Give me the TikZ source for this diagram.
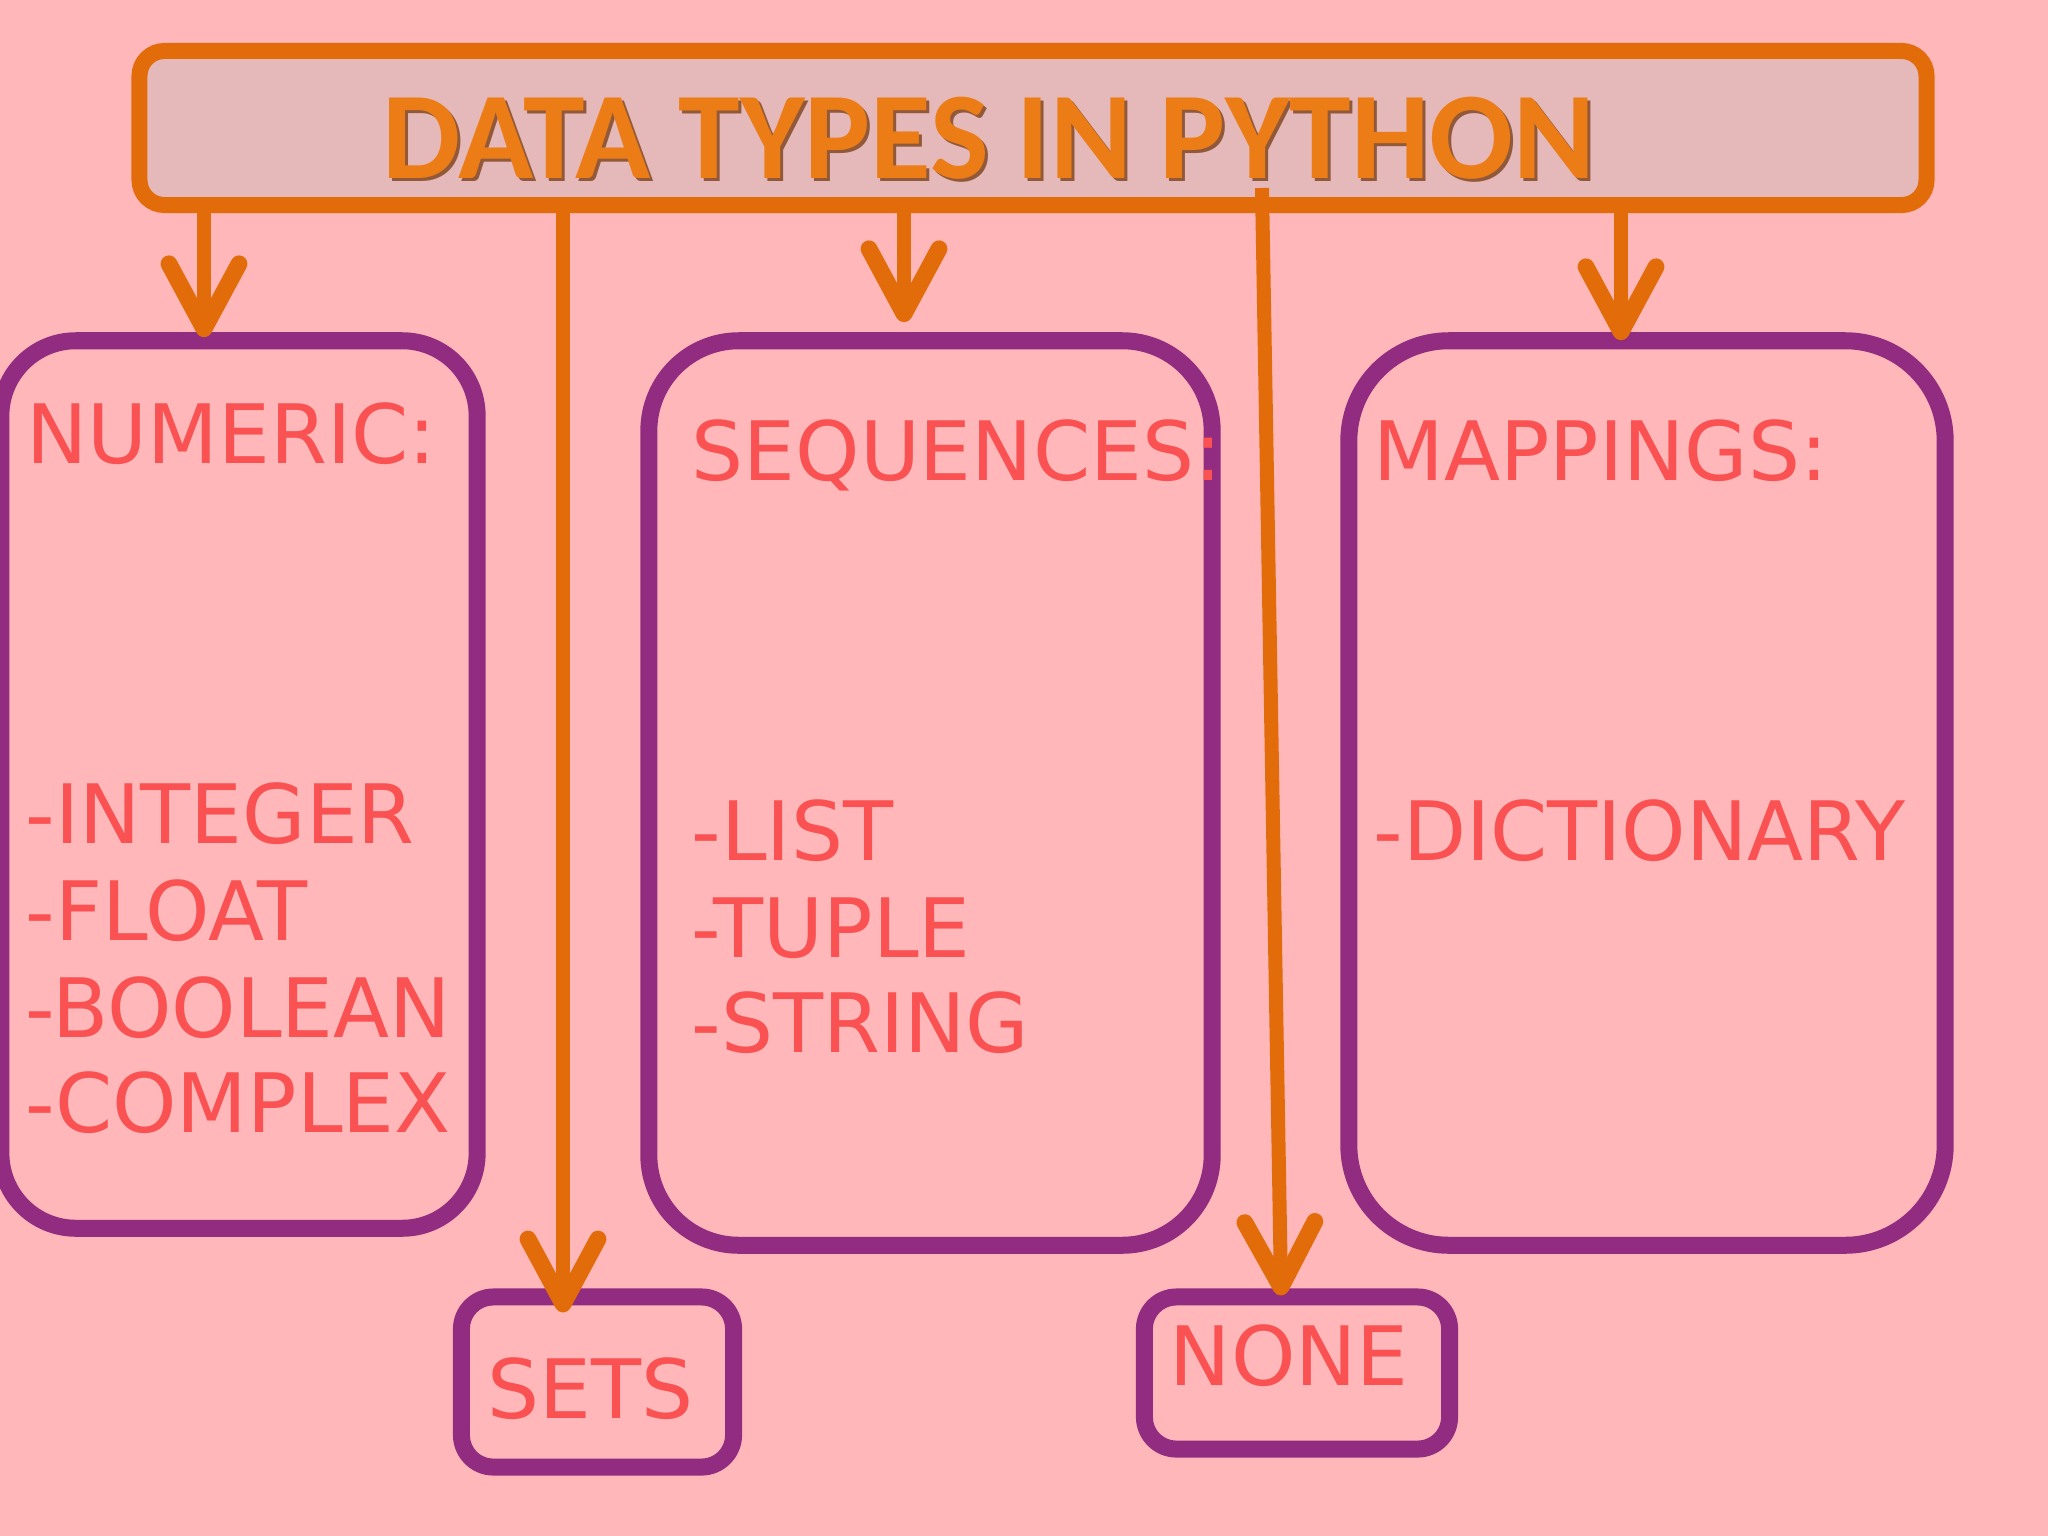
\documentclass[tikz,border=0pt]{standalone}
\usepackage{fontspec}
\usetikzlibrary{arrows.meta}
\newfontfamily\headfont{Carlito}
\newfontfamily\handfont{DejaVu Sans}
\definecolor{pagepink}{RGB}{255,183,185}
\definecolor{titlefill}{RGB}{229,184,185}
\definecolor{feedorange}{RGB}{227,108,10}
\definecolor{boxpurple}{RGB}{146,44,128}
\definecolor{itemred}{RGB}{250,82,82}
\definecolor{titleorange}{RGB}{236,125,22}
\definecolor{titleshade}{RGB}{110,50,5}
\tikzset{
  catbox/.style={draw=boxpurple,line width=1.7mm,inner sep=0pt},
  itemtext/.style={text=itemred,anchor=base west,inner sep=0pt,font=\handfont\fontsize{23.3pt}{28pt}\selectfont},
  titletext/.style={text=titleorange,anchor=base,inner sep=0pt,font=\headfont\bfseries\fontsize{35.3pt}{40pt}\selectfont},
  feed/.style={draw=feedorange,line width=1.4mm,->}
}

\begin{document}
\begin{tikzpicture}[x=.01cm,y=-.01cm,>={Straight Barb[length=6.5mm,width=7mm,round,line width=0pt 1.2]}]
\useasboundingbox (0,0) rectangle (2048,1536);
\fill[pagepink] (0,0) rectangle (2048,1536);
% heading
\node[draw=feedorange,fill=titlefill,line width=1.6mm,rounded corners=2.5mm,minimum width=17.86cm,minimum height=1.54cm] (title) at (1033,128) {};
\node[titletext,text=titleshade,opacity=.7] at (992,181) {DATA TYPES IN PYTHON};
\node[titletext] (head) at (989,178) {DATA TYPES IN PYTHON};
% the five groups
\node[catbox,rounded corners=7.5mm,minimum width=4.76cm,minimum height=8.87cm] (numeric) at (239,784.5) {};
\node[catbox,rounded corners=9mm,minimum width=5.63cm,minimum height=9.04cm] (sequences) at (930.5,793) {};
\node[catbox,rounded corners=10mm,minimum width=5.96cm,minimum height=9.04cm] (mappings) at (1647,793) {};
\node[catbox,rounded corners=3.2mm,minimum width=2.72cm,minimum height=1.70cm] (sets) at (597.5,1382) {};
\node[catbox,rounded corners=3.2mm,minimum width=3.05cm,minimum height=1.52cm] (none) at (1297,1373) {};
% texts
\node[itemtext] (numlbl) at (26,463) {NUMERIC:};
\node[itemtext] (int) at (25,843) {-INTEGER};\node[itemtext] (flt) at (25,940) {-FLOAT};
\node[itemtext] (bool) at (25,1037) {-BOOLEAN};\node[itemtext] (cplx) at (25,1132) {-COMPLEX};
\node[itemtext] (seqlbl) at (691,480) {SEQUENCES:};
\node[itemtext] (lst) at (691,860) {-LIST};\node[itemtext] (tpl) at (691,957) {-TUPLE};
\node[itemtext] (str) at (691,1052) {-STRING};
\node[itemtext] (maplbl) at (1373,480) {MAPPINGS:};
\node[itemtext] (dict) at (1373,860) {-DICTIONARY};
\node[itemtext] (setlbl) at (487,1418) {SETS};
\node[itemtext] (nonelbl) at (1169,1385) {NONE};
% arrows
\coordinate (xnum) at (204,0);\coordinate (xset) at (563,0);\coordinate (xseq) at (904,0);
\coordinate (xnone) at (1281,0);\coordinate (xmap) at (1621,0);\coordinate (nonestart) at (1262,188);
\draw[feed,shorten >=-.5mm] (title.south -| xnum) -- (numeric.north -| xnum);
\draw[feed,shorten >=-2.4mm] (title.south -| xset) -- (sets.north -| xset);
\draw[feed,shorten >=1mm] (title.south -| xseq) -- (sequences.north -| xseq);
\draw[feed,shorten >=-.7mm] (nonestart) -- (none.north -| xnone);
\draw[feed,shorten >=-.8mm] (title.south -| xmap) -- (mappings.north -| xmap);
\end{tikzpicture}
\end{document}
